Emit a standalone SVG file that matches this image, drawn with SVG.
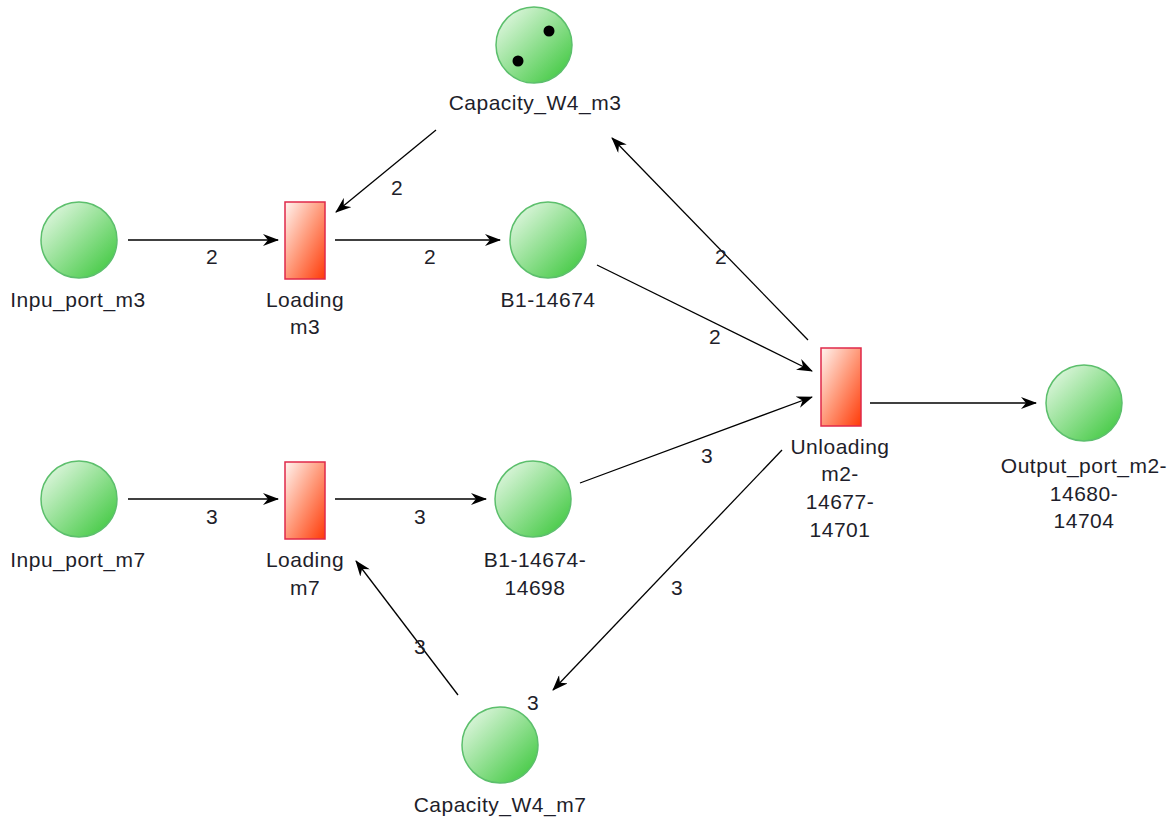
<svg xmlns="http://www.w3.org/2000/svg" width="1173" height="820" viewBox="0 0 1173 820">
<defs>
<linearGradient id="gp" x1="0" y1="0" x2="1" y2="1">
<stop offset="0" stop-color="#f0fbf0"/>
<stop offset="1" stop-color="#34c534"/>
</linearGradient>
<linearGradient id="gt" x1="0" y1="0" x2="1" y2="1">
<stop offset="0" stop-color="#fff4f0"/>
<stop offset="0.5" stop-color="#ff9878"/>
<stop offset="1" stop-color="#ff3a08"/>
</linearGradient>
<marker id="ah" viewBox="0 0 16 12" refX="15" refY="6" markerWidth="16" markerHeight="12" markerUnits="userSpaceOnUse" orient="auto">
<path d="M0,0 L16,6 L0,12 L5,6 z" fill="#000"/>
</marker>
<style>
.pl{fill:url(#gp);stroke:#5cbf6c;stroke-width:1.5}
.tr{fill:url(#gt);stroke:#e0284a;stroke-width:1.5}
.lb{font-family:"Liberation Sans",Arial,sans-serif;font-size:21px;letter-spacing:0.5px;fill:#1e1e2a;text-anchor:middle}
.ar{stroke:#000;stroke-width:1.3;fill:none;marker-end:url(#ah)}
.tk{fill:#000}
</style>
</defs>
<rect width="1173" height="820" fill="#fff"/>
<g id="connectors">
<line class="ar" x1="128" y1="240" x2="278" y2="240"/>
<line class="ar" x1="335" y1="240" x2="500" y2="240"/>
<line class="ar" x1="436" y1="130" x2="336" y2="212"/>
<line class="ar" x1="597" y1="265" x2="812" y2="371"/>
<line class="ar" x1="808" y1="340" x2="612" y2="138"/>
<line class="ar" x1="580" y1="483" x2="812" y2="397"/>
<line class="ar" x1="870" y1="403" x2="1036" y2="403"/>
<line class="ar" x1="128" y1="499" x2="278" y2="499"/>
<line class="ar" x1="335" y1="499" x2="486" y2="499"/>
<line class="ar" x1="782" y1="450" x2="553" y2="690"/>
<line class="ar" x1="458" y1="695" x2="356" y2="561"/>
<text class="lb" x="212" y="264">2</text>
<text class="lb" x="430" y="264">2</text>
<text class="lb" x="397" y="195">2</text>
<text class="lb" x="721" y="264">2</text>
<text class="lb" x="715" y="344">2</text>
<text class="lb" x="212" y="524">3</text>
<text class="lb" x="420" y="524">3</text>
<text class="lb" x="707" y="463">3</text>
<text class="lb" x="677" y="595">3</text>
<text class="lb" x="420" y="654">3</text>
<text class="lb" x="533" y="710">3</text>
</g>
<g id="Capacity_W4_m3">
<circle class="pl" cx="534" cy="45" r="38"/>
<circle class="tk" cx="549" cy="31" r="5.5"/>
<circle class="tk" cx="518" cy="61" r="5.5"/>
<text class="lb" x="535" y="110">Capacity_W4_m3</text>
</g>
<g id="Inpu_port_m3">
<circle class="pl" cx="79" cy="240" r="38"/>
<text class="lb" x="78" y="307">Inpu_port_m3</text>
</g>
<g id="Loading_m3">
<rect class="tr" x="285" y="202" width="40" height="77"/>
<text class="lb" x="305" y="307">Loading</text>
<text class="lb" x="305" y="334">m3</text>
</g>
<g id="B1-14674">
<circle class="pl" cx="548" cy="240" r="38"/>
<text class="lb" x="548" y="307">B1-14674</text>
</g>
<g id="Unloading">
<rect class="tr" x="821" y="348" width="40" height="78"/>
<text class="lb" x="840" y="454">Unloading</text>
<text class="lb" x="840" y="481">m2-</text>
<text class="lb" x="840" y="509">14677-</text>
<text class="lb" x="840" y="537">14701</text>
</g>
<g id="Output_port">
<circle class="pl" cx="1084" cy="403" r="38"/>
<text class="lb" x="1084" y="473">Output_port_m2-</text>
<text class="lb" x="1084" y="501">14680-</text>
<text class="lb" x="1084" y="528">14704</text>
</g>
<g id="Inpu_port_m7">
<circle class="pl" cx="79" cy="499" r="38"/>
<text class="lb" x="78" y="567">Inpu_port_m7</text>
</g>
<g id="Loading_m7">
<rect class="tr" x="285" y="462" width="40" height="77"/>
<text class="lb" x="305" y="567">Loading</text>
<text class="lb" x="305" y="595">m7</text>
</g>
<g id="B1-14674-14698">
<circle class="pl" cx="533" cy="499" r="38"/>
<text class="lb" x="535" y="567">B1-14674-</text>
<text class="lb" x="535" y="595">14698</text>
</g>
<g id="Capacity_W4_m7">
<circle class="pl" cx="500" cy="745" r="38"/>
<text class="lb" x="500" y="812">Capacity_W4_m7</text>
</g>
</svg>
